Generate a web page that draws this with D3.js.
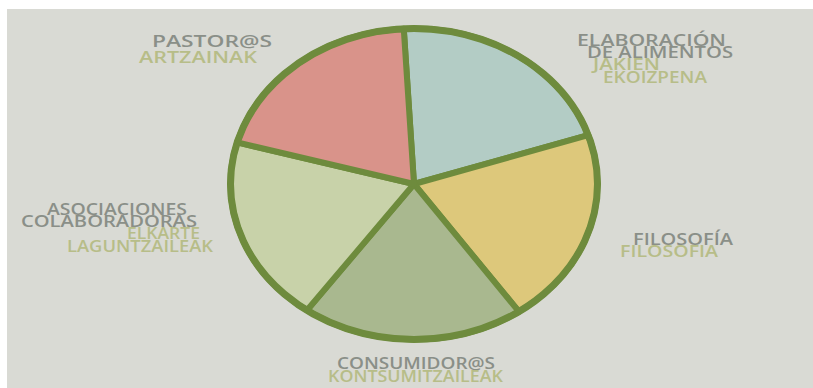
<!DOCTYPE html>
<html><head><meta charset="utf-8">
<script src="https://cdn.jsdelivr.net/npm/d3@7"></script>
<style>html,body{margin:0;padding:0;background:#fff;}svg{display:block;}</style>
</head><body>
<script>
// ---- data ----
const categories = ["ELABORACIÓN DE ALIMENTOS", "FILOSOFÍA", "CONSUMIDOR@S", "ASOCIACIONES COLABORADORAS", "PASTOR@S"];
const values = [20.8, 20.4, 19.6, 19.4, 19.8];
const labelsEs = [["ELABORACIÓN", "DE  ALIMENTOS"], ["FILOSOFÍA"], ["CONSUMIDOR@S"], ["ASOCIACIONES", "COLABORADORAS"], ["PASTOR@S"]];
const labelsEu = [["JAKIEN", "EKOIZPENA"], ["FILOSOFIA"], ["KONTSUMITZAILEAK"], ["ELKARTE", "LAGUNTZAILEAK"], ["ARTZAINAK"]];
const colors = ["#b3ccc5", "#ddc87b", "#a9b88f", "#c8d2a9", "#d9938a"];

// ---- layout (label line anchors relative to pie centre: [dx, baseline dy, width]) ----
const W = 813, H = 388;
const cx = 414, cy = 184, rx = 183.5, ry = 155.5;
const labelLayout = [
  {es: [[163, -138, 149], [173, -126, 146]], eu: [[179, -114, 67], [189, -101, 104]]},
  {es: [[219, 61, 100]], eu: [[206, 73, 98]]},
  {es: [[-77, 185, 158]], eu: [[-86, 198, 175]]},
  {es: [[-367, 31, 140], [-393, 43, 176]], eu: [[-287, 55, 73], [-347, 68, 146]]},
  {es: [[-262, -137, 120]], eu: [[-275, -121, 118]]}
];

const svg = d3.select("body").append("svg").attr("width", W).attr("height", H);
svg.append("rect").attr("x", 7).attr("y", 9).attr("width", W - 7).attr("height", H - 9).attr("fill", "#d9dad4");

const pie = d3.pie().sort(null).value(d => d).startAngle(-3.2 * Math.PI / 180).endAngle((360 - 3.2) * Math.PI / 180);
const R = 100;
const arc = d3.arc().innerRadius(0).outerRadius(R);
const g = svg.append("g").attr("transform", `translate(${cx},${cy}) scale(${rx / R},${ry / R})`);
const arcs = pie(values);
g.selectAll("path.slice").data(arcs).join("path")
  .attr("class", "slice")
  .attr("d", arc)
  .attr("fill", (d, i) => colors[i])
  .attr("stroke", "#6e8b3d")
  .attr("stroke-width", 6)
  .attr("stroke-linejoin", "round")
  .attr("vector-effect", "non-scaling-stroke");
g.append("circle").attr("r", R).attr("fill", "none")
  .attr("stroke", "#6e8b3d").attr("stroke-width", 7)
  .attr("vector-effect", "non-scaling-stroke");

const lab = svg.append("g").attr("font-family", "'Open Sans', Lato, 'DejaVu Sans', sans-serif")
  .attr("font-size", 16).attr("font-weight", 600);
categories.forEach((c, i) => {
  const L = labelLayout[i];
  labelsEs[i].forEach((t, j) => {
    const [dx, dy, w] = L.es[j];
    lab.append("text").attr("x", cx + dx).attr("y", cy + dy).attr("fill", "#8a8f88")
      .attr("textLength", w).attr("lengthAdjust", "spacingAndGlyphs").text(t);
  });
  labelsEu[i].forEach((t, j) => {
    const [dx, dy, w] = L.eu[j];
    lab.append("text").attr("x", cx + dx).attr("y", cy + dy).attr("fill", "#b7bd88")
      .attr("textLength", w).attr("lengthAdjust", "spacingAndGlyphs").text(t);
  });
});
</script>
</body></html>
